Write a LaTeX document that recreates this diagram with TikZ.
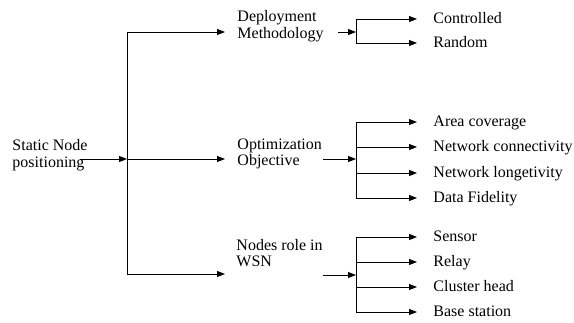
\documentclass[tikz,border=0pt]{standalone}
\usepackage{fontspec}
\setmainfont{Liberation Serif}
\usetikzlibrary{arrows.meta}

\begin{document}
\begin{tikzpicture}[x=1pt,y=-1pt,line width=0.9pt,
  >={Triangle[length=8pt,width=6pt]},
  Lbl/.style={anchor=west,inner sep=0pt,align=left,font=\fontsize{16}{16.5}\selectfont},
  Leaf/.style={Lbl,text height=11pt,text depth=3pt}]
%靜態節點定位的分類樹
\useasboundingbox (0,0) rectangle (574,322);

\node[Lbl] (Root) at (12,155) {Static Node\\positioning};
\node[Lbl] (Dep) at (237,26) {Deployment\\Methodology};
\node[Lbl] (Opt) at (237,154) {Optimization\\Objective};
\node[Lbl] (Role) at (236,253) {Nodes role in\\WSN};

\coordinate (RootOut) at (80,159);
\coordinate (TrunkTop) at (127,32);
\coordinate (TrunkMid) at (127,159);
\coordinate (TrunkBot) at (127,274);
\coordinate (DepIn) at (225,32);
\coordinate (OptIn) at (225,159);
\coordinate (RoleIn) at (225,274);

\draw[->] (RootOut) -- (TrunkMid);
\draw (TrunkTop) -- (TrunkBot);
\draw[->] (TrunkTop) -- (DepIn);
\draw[->] (TrunkMid) -- (OptIn);
\draw[->] (TrunkBot) -- (RoleIn);

\coordinate (DepOut) at (338,32);
\coordinate (DepFork) at (356,32);
\coordinate (OptOut) at (323,159);
\coordinate (OptFork) at (356,159);
\coordinate (RoleOut) at (323,275);
\coordinate (RoleFork) at (356,275);

\draw[->] (DepOut) -- (DepFork);
\draw[->] (OptOut) -- (OptFork);
\draw[->] (RoleOut) -- (RoleFork);

\foreach \n/\y/\t in
{ Ctrl/19/Controlled,
  Rand/43/Random,
  Area/122/Area coverage,
  Conn/147/Network connectivity,
  Life/173/Network longetivity,
  Fid/198/Data Fidelity,
  Sens/237/Sensor,
  Relay/262/Relay,
  Head/287/Cluster head,
  Base/312/Base station
}
{
    \node[Leaf] (\n) at (433,\y) {\t};
    \coordinate (\n Fork) at (356,\y);
    \coordinate (\n Tip) at (417,\y);
    \draw[->] (\n Fork) -- (\n Tip);
};

\draw (CtrlFork) -- (RandFork);
\draw (AreaFork) -- (FidFork);
\draw (SensFork) -- (BaseFork);
\end{tikzpicture}
\end{document}
